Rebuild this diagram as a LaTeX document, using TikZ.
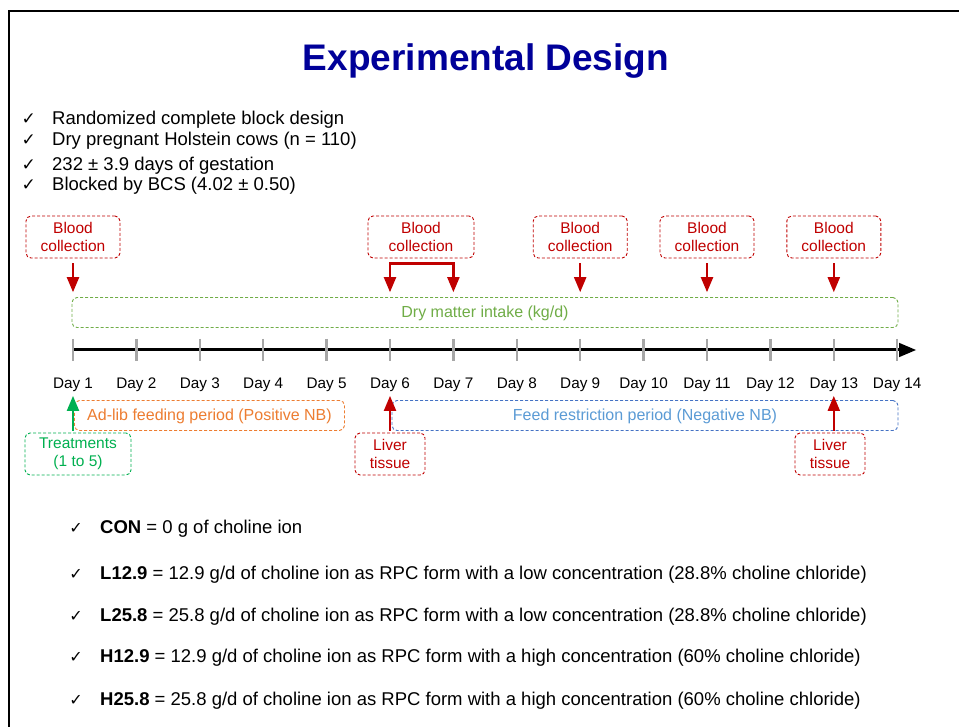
\documentclass[tikz,border=0pt]{standalone}
\usepackage{fontspec}
\setmainfont{Liberation Sans}
\newfontfamily\checkfont{DejaVu Sans}
\usetikzlibrary{arrows,positioning}

\definecolor{titleblue}{RGB}{0,0,153}
\definecolor{darkred}{RGB}{192,0,0}
\definecolor{dmigreen}{RGB}{112,173,71}
\definecolor{trtgreen}{RGB}{0,176,80}
\definecolor{adlibor}{RGB}{237,125,49}
\definecolor{restrline}{RGB}{68,114,196}
\definecolor{restrtext}{RGB}{91,155,213}
\definecolor{tickgray}{RGB}{166,166,166}

\newcommand{\ck}[1][17]{{\checkfont\fontsize{#1}{#1}\selectfont ✓}}

\begin{document}
\begin{tikzpicture}[x=1pt, y=-1pt, >=triangle 45, node distance=35pt,
  tag/.style={draw, dash pattern=on 3pt off 2pt, rounded corners=5pt, line width=0.9pt,
    align=center, minimum height=42pt, inner sep=2pt, font=\fontsize{15.5}{18.5}\selectfont},
  blood/.style={tag, draw=darkred, text=darkred, minimum width=94pt},
  liver/.style={tag, draw=darkred, text=darkred, minimum width=70pt},
  period/.style={draw, dash pattern=on 3pt off 2pt, rounded corners=5pt, line width=0.9pt,
    minimum height=30pt, inner sep=2pt, text depth=1pt, font=\fontsize{16}{19}\selectfont},
  redarrow/.style={->, darkred, line width=2.5pt},
  daytick/.style={tickgray, line width=2.5pt},
  daylabel/.style={font=\fontsize{15.3}{18}\selectfont},
  toplist/.style={anchor=base west, inner sep=0pt, font=\fontsize{18.5}{22}\selectfont},
  botlist/.style={anchor=base west, inner sep=0pt, font=\fontsize{18.5}{22}\selectfont}]

\useasboundingbox (0,0) rectangle (959,727);
\fill[white] (0,0) rectangle (959,727);
\draw[line width=2pt] (9,727) -- (9,11) -- (959,11);

\node[anchor=base, text=titleblue, font=\fontsize{37}{42}\selectfont\bfseries] (title) at (486,70.5) {Experimental Design};

% study summary
\node[toplist] (s1) at (52,125) {Randomized complete block design};
\node[toplist] (s2) at (52,146) {Dry pregnant Holstein cows (n = 110)};
\node[toplist] (s3) at (52,171) {232 ± 3.9 days of gestation};
\node[toplist] (s4) at (52,191) {Blocked by BCS (4.02 ± 0.50)};
\foreach \i in {1,...,4}
  \node[anchor=base east, inner sep=0pt] at ([xshift=-16pt]s\i.base west) {\ck};

% time line
\foreach \i in {1,...,14}
  \coordinate (d\i) at ({73+63.4*(\i-1)},350);
\draw[->, line width=3pt] (d1) -- (916,350);
\foreach \i in {1,...,14} {
  \draw[daytick] ([yshift=11pt]d\i) -- ([yshift=-11pt]d\i);
  \node[daylabel, below of=d\i] (day\i) {Day \i};
}

\node[period, draw=dmigreen, text=dmigreen, minimum width=826pt] (dmi) at (485,312.5) {Dry matter intake (kg/d)};
\node[period, draw=adlibor, text=adlibor, minimum width=270pt] (adlib) at (209.5,415.5) {Ad-lib feeding period (Positive NB)};
\node[period, draw=restrline, text=restrtext, minimum width=506pt] (restr) at (645,415.5) {Feed restriction period (Negative NB)};

% sampling
\node[blood] (b1) at (d1 |- 0,237) {Blood\\collection};
\node[blood, minimum width=106pt] (b2) at (421,237) {Blood\\collection};
\node[blood] (b3) at (d9 |- 0,237) {Blood\\collection};
\node[blood] (b4) at (d11 |- 0,237) {Blood\\collection};
\node[blood] (b5) at (d13 |- 0,237) {Blood\\collection};
\foreach \b/\d in {b1/d1, b3/d9, b4/d11, b5/d13}
  \draw[redarrow, shorten <=5pt] (\b) -- ([yshift=5pt]\d |- dmi.north);
\coordinate (bk) at ([yshift=-5pt]b2.south);
\draw[redarrow, <->, line join=miter] ([yshift=5pt]d6 |- dmi.north) -- (d6 |- bk) -- (d7 |- bk) -- ([yshift=5pt]d7 |- dmi.north);

\node[liver] (lv1) at (390,454) {Liver\\tissue};
\node[liver] (lv2) at (830,454) {Liver\\tissue};
\draw[redarrow] ([yshift=2pt]d6 |- lv1.north) -- ([yshift=4pt]d6 |- restr.north);
\draw[redarrow] ([yshift=2pt]d13 |- lv2.north) -- ([yshift=4pt]d13 |- restr.north);

\node[tag, draw=trtgreen, text=trtgreen, minimum width=106pt] (trt) at (78,454) {Treatments\\(1 to 5)};
\draw[->, trtgreen, line width=2.5pt] ([yshift=2pt]d1 |- trt.north) -- ([yshift=4pt]d1 |- adlib.north);

% treatments
\node[botlist] (t1) at (100,533.5) {\textbf{CON} = 0 g of choline ion};
\node[botlist] (t2) at (100,579.5) {\textbf{L12.9} = 12.9 g/d of choline ion as RPC form with a low concentration (28.8\% choline chloride)};
\node[botlist] (t3) at (100,621.5) {\textbf{L25.8} = 25.8 g/d of choline ion as RPC form with a low concentration (28.8\% choline chloride)};
\node[botlist] (t4) at (100,662.5) {\textbf{H12.9} = 12.9 g/d of choline ion as RPC form with a high concentration (60\% choline chloride)};
\node[botlist] (t5) at (100,705.5) {\textbf{H25.8} = 25.8 g/d of choline ion as RPC form with a high concentration (60\% choline chloride)};
\foreach \i in {1,...,5}
  \node[anchor=base east, inner sep=0pt] at ([xshift=-17pt]t\i.base west) {\ck[16]};

\end{tikzpicture}
\end{document}
